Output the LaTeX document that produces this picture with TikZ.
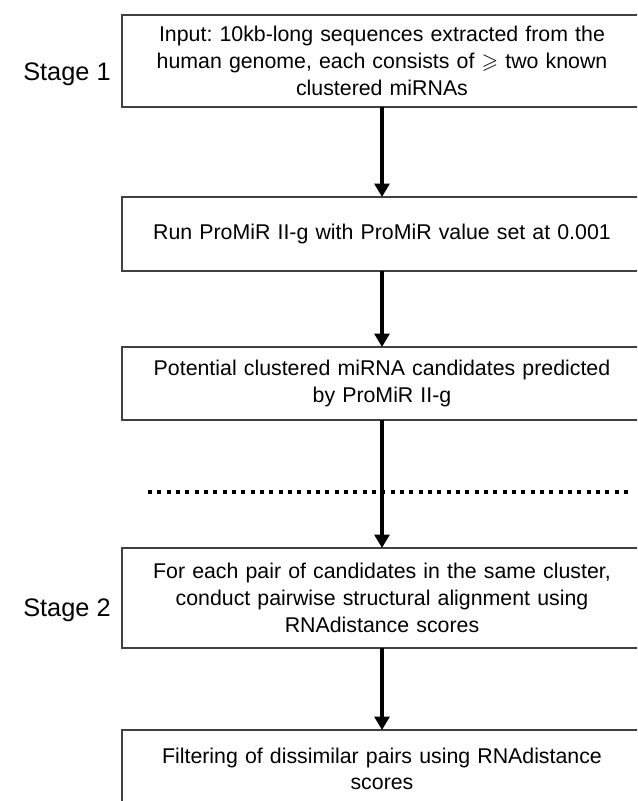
\documentclass[tikz,border=0pt]{standalone}
\usepackage{amsmath}
\usepackage{amssymb}
\usepackage{fontspec}
\setmainfont{Liberation Sans}
\frenchspacing
\usetikzlibrary{positioning,calc}
\usetikzlibrary{arrows.meta}
\colorlet{boxline}{black!75}
\tikzstyle{flowarrow} = [line width=3pt,-{Triangle[length=10pt,width=11pt]}]
\tikzstyle{cutline} = [line width=3pt,dash pattern=on 3pt off 4pt]

\begin{document}
\begin{tikzpicture}[x=0.75pt,y=-0.75pt,
	stepbox/.style={rectangle, draw=boxline, line width=1.1pt, align=center, text width=372pt, inner xsep=9pt, inner ysep=0pt, outer sep=0pt, minimum height=#1, font=\fontsize{16}{20}\selectfont},
	stagelabel/.style={font=\fontsize{19}{22}\selectfont}]
	
	\clip (0,0) rectangle (637,801);
	
	% STEPS
	
	\node [stepbox=69pt] (input) at (382,61)
	{Input: 10kb-long sequences extracted from the\\
		human genome, each consists of $\geqslant$ two known\\
		clustered miRNAs};
	
	\node [stepbox=55.5pt, below=67.5pt of input] (promir)
	{Run ProMiR II-g with ProMiR value set at 0.001};
	
	\node [stepbox=54.75pt, below=57pt of promir] (cands)
	{Potential clustered miRNA candidates predicted\\
		by ProMiR II-g};
	
	\node [stepbox=75pt, below=96pt of cands] (pairalign)
	{For each pair of candidates in the same cluster,\\
		conduct pairwise structural alignment using\\
		RNAdistance scores};
	
	\node [stepbox=58.5pt, below=61.5pt of pairalign] (filter)
	{Filtering of dissimilar pairs using RNAdistance\\
		scores};
	
	% STAGES
	
	\node [stagelabel, left=5pt of input, yshift=-10pt] (stage1) {Stage 1};
	\node [stagelabel, left=5pt of pairalign, yshift=-9pt] (stage2) {Stage 2};
	
	% SEPARATOR
	
	\coordinate (cutL) at (148,492);
	\coordinate (cutR) at (631,492);
	\draw [cutline] (cutL) -- (cutR);
	
	% ARROWS
	
	\draw [flowarrow] (input) -- (promir);
	\draw [flowarrow] (promir) -- (cands);
	\draw [flowarrow] (cands) -- (pairalign);
	\draw [flowarrow] (pairalign) -- (filter);
	
\end{tikzpicture}
\end{document}
